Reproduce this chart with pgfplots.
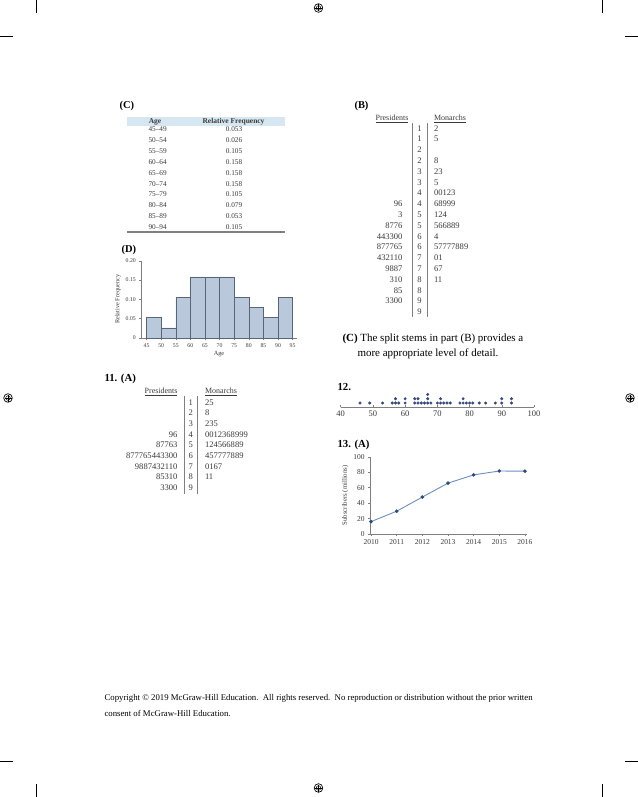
\documentclass[border=0pt]{standalone}
\usepackage{fontspec}
\setmainfont{Liberation Serif}
\usepackage{pgfplots}
\pgfplotsset{compat=1.18}
\definecolor{barfill}{HTML}{B9C8DA}
\definecolor{baredge}{HTML}{56657A}
\definecolor{hdr}{HTML}{D6E7F1}
\definecolor{axgray}{HTML}{7F7F7F}
\definecolor{dotblue}{HTML}{34497A}
\definecolor{lineblue}{HTML}{6A8FC4}
\definecolor{markblue}{HTML}{2E4A7D}
\definecolor{txt}{HTML}{3A3A3A}
\newcommand{\fs}[1]{\fontsize{#1}{#1}\selectfont}
\begin{document}
\begin{tikzpicture}
\begin{scope}[x=1bp,y=-1bp]
\fill[white] (0,0) rectangle (638,797);
\useasboundingbox (0,0) rectangle (638,797);
% crop marks
\draw[line width=0.6pt] (36,0)--(36,13) (0,36)--(13,36);
\draw[line width=0.6pt] (602,0)--(602,13) (625,36)--(638,36);
\draw[line width=0.6pt] (36,784)--(36,797) (0,761)--(13,761);
\draw[line width=0.6pt] (602,784)--(602,797) (625,761)--(638,761);
% registration marks
\foreach \cx/\cy in {318.5/8, 8/398, 630/398, 318.5/788}{
  \draw[line width=0.7pt] (\cx,\cy) circle (4.3);
  \draw[line width=0.5pt] (\cx,\cy) circle (2.3);
  \draw[line width=0.5pt] (\cx-3.5,\cy)--(\cx+3.5,\cy) (\cx,\cy-3.5)--(\cx,\cy+3.5);
}
% ---------- (C) table
\node[anchor=west,font=\fs{10.5}\bfseries] at (116,106) {(C)};
\fill[hdr] (127,117) rectangle (285,126);
\node[font=\fs{7.5}\bfseries,text=txt] at (155,121.5) {Age};
\node[font=\fs{7.5}\bfseries,text=txt] at (233.5,121.5) {Relative Frequency};
\foreach \a/\b [count=\i from 0] in {45--49/0.053,50--54/0.026,55--59/0.105,60--64/0.158,65--69/0.158,70--74/0.158,75--79/0.105,80--84/0.079,85--89/0.053,90--94/0.105}{
  \node[anchor=west,font=\fs{7.3},text=txt] at (145,129.5+\i*10.85) {\a};
  \node[font=\fs{7.3},text=txt] at (234,129.5+\i*10.85) {\b};
}
\draw[gray,line width=1.1pt] (127,232) -- (285,232);
% ---------- (D)
\node[anchor=west,font=\fs{10.5}\bfseries] at (118,250) {(D)};
% ---------- (B) stem and leaf
\node[anchor=west,font=\fs{10.5}\bfseries] at (351,106) {(B)};
\node[font=\fs{8},text=txt] at (392,119) {\underline{Presidents}};
\node[anchor=west,font=\fs{8},text=txt] at (430.5,119) {\underline{Monarchs}};
\draw[gray,line width=0.5pt] (412.7,123)--(412.7,317) (427.7,123)--(427.7,317);
\foreach \p/\s/\m [count=\i from 0] in {/1/2,/1/5,/2/,/2/8,/3/23,/3/5,/4/00123,96/4/68999,3/5/124,8776/5/566889,443300/6/4,877765/6/57777889,432110/7/01,9887/7/67,310/8/11,85/8/,3300/9/,/9/}{
  \node[anchor=east,font=\fs{8.6},text=txt] at (406,128.3+\i*10.8) {\p};
  \node[font=\fs{8.6},text=txt] at (419.5,128.3+\i*10.8) {\s};
  \node[anchor=west,font=\fs{8.6},text=txt] at (430.5,128.3+\i*10.8) {\m};
}
\node[anchor=west,font=\fs{11}] at (339,339) {\textbf{(C)} The split stems in part (B) provides a};
\node[anchor=west,font=\fs{11}] at (354,354) {more appropriate level of detail.};
% ---------- 11. (A)
\node[anchor=west,font=\fs{10.8}\bfseries] at (101,379) {11. (A)};
\node[anchor=east,font=\fs{8},text=txt] at (181,391.7) {\underline{Presidents}};
\node[anchor=west,font=\fs{8},text=txt] at (201.5,391.7) {\underline{Monarchs}};
\draw[gray,line width=0.5pt] (184,396)--(184,494) (197.7,396)--(197.7,494);
\foreach \p/\s/\m [count=\i from 0] in {/1/25,/2/8,/3/235,96/4/0012368999,87763/5/124566889,877765443300/6/457777889,9887432110/7/0167,85310/8/11,3300/9/}{
  \node[anchor=east,font=\fs{8.6},text=txt] at (181,402.3+\i*10.67) {\p};
  \node[font=\fs{8.6},text=txt] at (190.8,402.3+\i*10.67) {\s};
  \node[anchor=west,font=\fs{8.6},text=txt] at (201.5,402.3+\i*10.67) {\m};
}
% ---------- 12. and 13.
\node[anchor=west,font=\fs{10.8}\bfseries] at (334,386.7) {12.};
\node[anchor=west,font=\fs{10.8}\bfseries] at (334,444.5) {13. (A)};
% ---------- copyright
\node[anchor=west,font=\fs{8.8}] at (101,698) {Copyright \textcopyright\ 2019 McGraw-Hill Education.\ \ All rights reserved.\ \ No reproduction or distribution without the prior written};
\node[anchor=west,font=\fs{8.8}] at (101,713) {consent of McGraw-Hill Education.};
\end{scope}

% ---------- histogram (D)
\begin{axis}[at={(141.3bp,-338bp)}, anchor=south west, scale only axis,
  width=155.4bp, height=77.3bp, xmin=43.2, xmax=96.4, ymin=0, ymax=0.2,
  axis x line=bottom, axis y line=left, axis line style={axgray,-,line width=0.5pt},
  xtick={45,50,...,95}, ytick={0,0.05,0.1,0.15,0.2},
  yticklabels={0,0.05,0.10,0.15,0.20},
  tick style={axgray,line width=0.4pt}, tick align=outside, major tick length=2bp,
  tick label style={font=\fs{5.8},text=txt},
  /pgf/number format/assume math mode=true,
  xlabel={Age}, ylabel={Relative Frequency},
  label style={font=\fs{6.3},text=txt},
  xlabel style={yshift=3bp}, ylabel style={yshift=-2bp},
  clip=false]
\addplot[ybar interval, fill=barfill, draw=baredge, line width=0.5pt] coordinates {
(45,0.053) (50,0.026) (55,0.105) (60,0.158) (65,0.158) (70,0.158) (75,0.105) (80,0.079) (85,0.053) (90,0.105) (95,0.105)};
\end{axis}

% ---------- dot plot 12
\begin{axis}[at={(340.7bp,-407.3bp)}, anchor=south west, scale only axis,
  width=193.3bp, height=15bp, xmin=40, xmax=100, ymin=0, ymax=3.5,
  axis x line=bottom, axis y line=none, axis line style={axgray,-,line width=0.6pt},
  xtick={40,50,...,100}, tick align=inside, major tick length=2.5bp,
  tick style={axgray,line width=0.5pt},
  tick label style={font=\fs{8.5},text=txt},
  /pgf/number format/assume math mode=true,
  clip=false]
\addplot[only marks, mark=*, mark size=1.3bp, color=dotblue] coordinates {
(46,1) (49,1) (53,1) (56,1) (57,1) (57,2) (58,1) (60,1) (60,2) (63,1) (63,2) (64,1) (64,2) (65,1) (66,1) (67,1) (67,2) (67,3) (68,1)
(70,1) (71,1) (71,2) (72,1) (73,1) (74,1) (77,1) (78,1) (78,2) (79,1) (80,1) (81,1) (83,1) (85,1) (88,1) (90,1) (90,2) (93,1) (93,2)};
\end{axis}

% ---------- line chart 13
\begin{axis}[at={(370bp,-534bp)}, anchor=south west, scale only axis,
  width=157bp, height=77.3bp, xmin=2009.96, xmax=2016.08, ymin=0, ymax=100,
  axis x line=bottom, axis y line=left, axis line style={axgray,-,line width=0.5pt},
  xtick={2010,2011,...,2016}, ytick={0,20,...,100},
  x tick label style={/pgf/number format/1000 sep={}},
  tick style={axgray,line width=0.4pt}, tick align=outside, major tick length=2bp,
  tick label style={font=\fs{7.5},text=txt},
  /pgf/number format/assume math mode=true,
  ylabel={Subscribers (millions)},
  label style={font=\fs{6.8},text=txt}, ylabel style={yshift=-2bp},
  clip=false]
\addplot[lineblue, line width=0.9pt, mark=*, mark size=1.3bp, mark options={markblue}] coordinates {
(2010,16) (2011,29.5) (2012,47.8) (2013,65.8) (2014,76.5) (2015,81.5) (2016,81.3)};
\end{axis}
\end{tikzpicture}
\end{document}
